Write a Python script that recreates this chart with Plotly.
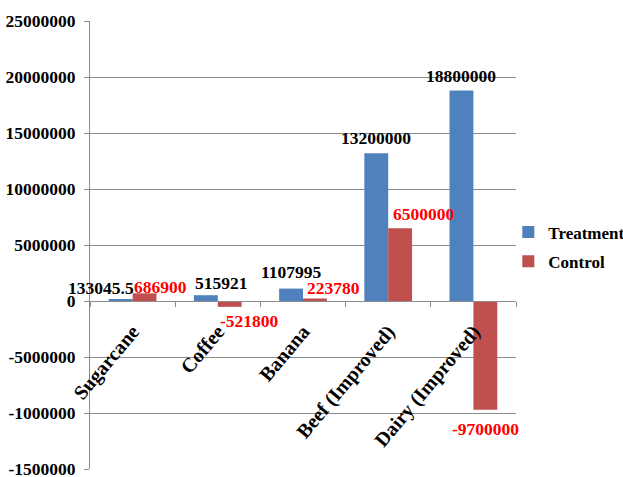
import plotly.graph_objects as go

# Crop categories and the two series
categories = ["Sugarcane", "Coffee", "Banana", "Beef (Improved)", "Dairy (Improved)"]
treatment = [133045.5, 515921, 1107995, 13200000, 18800000]
control = [686900, -521800, 223780, 6500000, -9700000]

# Value-axis ticks and the labels printed beside them
y_ticks = [25000000, 20000000, 15000000, 10000000, 5000000, 0,
           -5000000, -10000000, -15000000]
y_tick_labels = ["25000000", "20000000", "15000000", "10000000", "5000000", "0",
                 "-5000000", "-1000000", "-1500000"]

# Pixel nudges for the value labels (x from group centre, y from bar end)
treat_shift = [(-32, 12), (4, 12), (-12, 17), (-12, 15), (-12, 14)]
ctrl_shift = [(28, 6), (32, -14), (30, 10), (36, 14), (12, -19)]

FONT = "Liberation Serif, Times New Roman, serif"
BLUE = "#4F81BD"
RED = "#C0504D"
GRID = "#8C8C8C"

fig = go.Figure()
fig.add_trace(go.Bar(name="Treatment", x=categories, y=treatment,
                     marker=dict(color=BLUE, line=dict(width=0)),
                     legendgroup="t"))
fig.add_trace(go.Bar(name="Control", x=categories, y=control,
                     marker=dict(color=RED, line=dict(width=0)),
                     legendgroup="c"))


def fmt(v):
    return str(int(v)) if float(v).is_integer() else repr(float(v))


for cat, val, (dx, dy) in zip(categories, treatment, treat_shift):
    fig.add_annotation(x=cat, y=val, text=fmt(val), showarrow=False,
                       xshift=dx, yshift=dy, yanchor="middle",
                       font=dict(family=FONT, size=17.5, color="black", weight="bold"))
for cat, val, (dx, dy) in zip(categories, control, ctrl_shift):
    fig.add_annotation(x=cat, y=val, text=fmt(val), showarrow=False,
                       xshift=dx, yshift=dy, yanchor="middle",
                       font=dict(family=FONT, size=17.5, color="#FF0000", weight="bold"))

fig.update_layout(
    width=623, height=477,
    margin=dict(l=90, r=107, t=21, b=8, pad=0, autoexpand=False),
    paper_bgcolor="white", plot_bgcolor="white",
    barmode="group", bargap=0.44, bargroupgap=0,
    font=dict(family=FONT, size=16, color="black", weight="bold"),
    legend=dict(x=0.982, xanchor="left", y=0.4955, yanchor="middle",
                font=dict(family=FONT, size=17, color="black", weight="bold"),
                traceorder="grouped", tracegroupgap=4, itemwidth=30,
                bgcolor="rgba(0,0,0,0)"),
    showlegend=True,
)

fig.update_yaxes(
    range=[-15000000, 25000000], autorange=False,
    tickvals=y_ticks, ticktext=y_tick_labels,
    showgrid=True, gridcolor=GRID, gridwidth=1,
    zeroline=False, showline=True, linecolor=GRID, linewidth=1,
    ticks="outside", ticklen=5, tickcolor=GRID, ticklabelstandoff=5,
    ticklabeloverflow="allow",
    tickfont=dict(family=FONT, size=17.5, color="black", weight="bold"),
)
fig.update_xaxes(
    range=[-0.5, 4.5], autorange=False,
    anchor="free", position=0.375,
    showline=True, linecolor=GRID, linewidth=1,
    ticks="outside", ticklen=5, tickcolor=GRID, tickson="boundaries",
    tickangle=-50, showgrid=False, ticklabeloverflow="allow",
    ticklabelstandoff=10,
    tickfont=dict(family=FONT, size=20, color="black", weight="bold"),
)

fig.write_html("out.html")
